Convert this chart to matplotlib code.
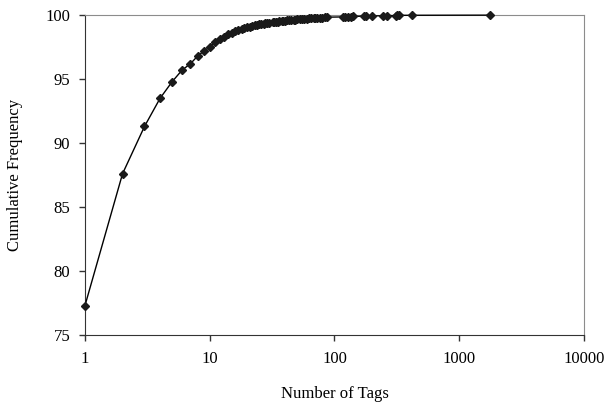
import matplotlib
matplotlib.use("Agg")
import matplotlib.pyplot as plt
from matplotlib.ticker import FixedLocator, FixedFormatter, NullLocator

plt.rcParams['font.family'] = ['Liberation Serif', 'DejaVu Serif']

# number of tags per resource and cumulative frequency (%)
tags = [1, 2, 3, 4, 5, 6, 7, 8, 9, 10,
        11, 12, 13, 14, 15, 16, 17, 18, 19, 20,
        21, 22, 23, 24, 25, 26, 27, 28, 29, 30,
        32, 33, 34, 35, 36, 38, 39, 40, 42, 43,
        45, 47, 48, 50, 53, 55, 57, 60, 62, 65,
        68, 70, 73, 76, 80, 84, 87,
        117, 122, 128, 135, 140, 172, 180, 200, 245, 262,
        310, 320, 330, 418, 1750]
cum_freq = [77.3, 87.6, 91.3, 93.5, 94.8, 95.7, 96.2, 96.8, 97.2, 97.5,
            97.9, 98.1, 98.3, 98.5, 98.6, 98.75, 98.85, 98.95, 99.0, 99.05,
            99.1, 99.15, 99.2, 99.25, 99.28, 99.3, 99.33, 99.36, 99.38, 99.4,
            99.44, 99.46, 99.48, 99.5, 99.52, 99.54, 99.56, 99.57, 99.59, 99.6,
            99.62, 99.64, 99.65, 99.66, 99.68, 99.7, 99.71, 99.73, 99.74, 99.75,
            99.77, 99.78, 99.79, 99.8, 99.81, 99.82, 99.84,
            99.86, 99.87, 99.88, 99.89, 99.9, 99.92, 99.93, 99.94, 99.95, 99.96,
            99.97, 99.98, 99.985, 99.99, 100.0]

xticks = [1, 10, 100, 1000, 10000]
xtick_labels = ['1', '10', '100', '1000', '10000']
yticks = [75, 80, 85, 90, 95, 100]

fig = plt.figure(figsize=(6.07, 4.09), dpi=100)
ax = fig.add_axes([0.140, 0.181, 0.822, 0.782])
ax.plot(tags, cum_freq, color='black', linewidth=1.0,
        marker='D', markersize=4.2, markerfacecolor='#1a1a1a',
        markeredgecolor='#1a1a1a', clip_on=False, zorder=3)

ax.set_xscale('log')
ax.set_xlim(1, 10000)
ax.set_ylim(75, 100)
ax.xaxis.set_major_locator(FixedLocator(xticks))
ax.xaxis.set_major_formatter(FixedFormatter(xtick_labels))
ax.xaxis.set_minor_locator(NullLocator())
ax.set_yticks(yticks)

for side in ['top', 'right']:
    ax.spines[side].set_color('#8c8c8c')
for side in ['left', 'bottom']:
    ax.spines[side].set_color('#333333')
ax.tick_params(direction='out', length=4, width=1, colors='#333333',
               labelcolor='black', labelsize=12)
ax.tick_params(axis='y', pad=6.5)
ax.tick_params(axis='x', pad=7.5)

ax.set_xlabel('Number of Tags', fontsize=12, labelpad=14)
ax.set_ylabel('Cumulative Frequency', fontsize=12, labelpad=16)

fig.savefig('out.png', dpi=100)
